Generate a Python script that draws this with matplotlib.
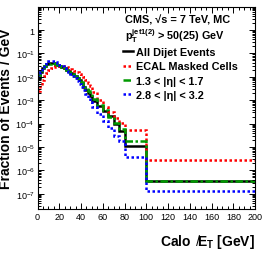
import numpy as np
import matplotlib
matplotlib.use("Agg")
import matplotlib.pyplot as plt
from matplotlib.ticker import FixedLocator, MultipleLocator, LogLocator, FuncFormatter, NullFormatter

# bin edges in GeV
edges = list(range(0, 50, 2)) + [50, 55, 60, 65, 70, 75, 80, 100, 200]

all_dijet = [1.1e-2, 1.6e-2, 2.3e-2, 2.9e-2, 3.4e-2, 3.8e-2, 3.9e-2, 3.8e-2, 3.6e-2, 3.3e-2,
             2.95e-2, 2.6e-2, 2.3e-2, 2.0e-2, 1.72e-2, 1.48e-2, 1.26e-2, 1.06e-2, 8.8e-3, 7.0e-3,
             5.2e-3, 3.8e-3, 2.8e-3, 2.0e-3, 1.45e-3,
             9e-4, 5.5e-4, 3.4e-4, 2.2e-4, 9.3e-5, 4.8e-5, 1.1e-5, 3.6e-7]
ecal_masked = [2.5e-3, 4.5e-3, 7.5e-3, 1.1e-2, 1.5e-2, 1.9e-2, 2.3e-2, 2.6e-2, 2.8e-2, 2.9e-2,
               2.9e-2, 2.85e-2, 2.75e-2, 2.6e-2, 2.42e-2, 2.22e-2, 2.0e-2, 1.78e-2, 1.55e-2, 1.33e-2,
               1.13e-2, 9.5e-3, 7.5e-3, 5.7e-3, 4.2e-3,
               2.3e-3, 1.0e-3, 5.0e-4, 3.0e-4, 1.8e-4, 1.1e-4, 5.3e-5, 2.7e-6]
eta_13_17 = [9e-3, 1.5e-2, 2.2e-2, 2.9e-2, 3.4e-2, 3.7e-2, 3.8e-2, 3.75e-2, 3.6e-2, 3.35e-2,
             3.0e-2, 2.65e-2, 2.35e-2, 2.05e-2, 1.78e-2, 1.53e-2, 1.3e-2, 1.1e-2, 9.3e-3, 7.6e-3,
             6.0e-3, 4.5e-3, 3.4e-3, 2.5e-3, 1.8e-3,
             1.1e-3, 6.2e-4, 3.8e-4, 2.0e-4, 1.1e-4, 6e-5, 1.85e-5, 3.6e-7]
eta_28_32 = [1.0e-2, 1.6e-2, 2.5e-2, 3.4e-2, 4.1e-2, 4.6e-2, 4.8e-2, 4.6e-2, 4.3e-2, 3.8e-2,
             3.3e-2, 2.85e-2, 2.4e-2, 2.0e-2, 1.65e-2, 1.35e-2, 1.1e-2, 8.8e-3, 6.8e-3, 5.0e-3,
             3.7e-3, 2.6e-3, 1.8e-3, 1.25e-3, 8.5e-4,
             5.0e-4, 2.6e-4, 1.3e-4, 6.5e-5, 2.9e-5, 1.8e-5, 3.8e-6, 1.35e-7]

labels = ["All Dijet Events", "ECAL Masked Cells", "1.3 < |η| < 1.7", "2.8 < |η| < 3.2"]
yticks = [1e-7, 1e-6, 1e-5, 1e-4, 1e-3, 1e-2, 1e-1, 1]

plt.rcParams['font.family'] = ['Liberation Sans', 'DejaVu Sans']
plt.rcParams['mathtext.fontset'] = 'custom'
plt.rcParams['mathtext.rm'] = 'Liberation Sans'
plt.rcParams['mathtext.bf'] = 'Liberation Sans:bold'
plt.rcParams['mathtext.it'] = 'Liberation Sans:italic'

fig = plt.figure(figsize=(2.66, 2.55), dpi=100)
ax = fig.add_axes([0.141, 0.176, 0.818, 0.794])

ax.stairs(all_dijet, edges, baseline=None, color='black', lw=1.8, label=labels[0])
ax.stairs(ecal_masked, edges, baseline=None, color='#ff0000', lw=1.8, ls=(0, (1, 1)), label=labels[1])
ax.stairs(eta_13_17, edges, baseline=None, color='#009900', lw=1.8, ls=(0, (3, 1, 1, 1)), label=labels[2])
ax.stairs(eta_28_32, edges, baseline=None, color='#0000ff', lw=1.8, ls=(0, (1, 1)), label=labels[3])

ax.set_yscale('log')
ax.set_xlim(0, 200)
ax.set_ylim(2.2e-8, 10)

ax.xaxis.set_major_locator(MultipleLocator(20))
ax.xaxis.set_minor_locator(MultipleLocator(5))
ax.yaxis.set_major_locator(FixedLocator(yticks))
ax.yaxis.set_minor_locator(LogLocator(base=10, subs=np.arange(2, 10), numticks=20))
ax.yaxis.set_minor_formatter(NullFormatter())

def fmt(v, pos):
    e = int(round(np.log10(v)))
    if e == 0:
        return '1'
    return r'$\mathregular{10^{%d}}$' % e

ax.yaxis.set_major_formatter(FuncFormatter(fmt))

ax.tick_params(which='both', direction='in', top=True, right=True, labelsize=6.5, pad=2)
ax.tick_params(which='major', length=4.5, width=0.7)
ax.tick_params(which='minor', length=2.3, width=0.7)
for s in ax.spines.values():
    s.set_linewidth(0.8)

ax.set_ylabel('Fraction of Events / GeV', fontsize=10, fontweight='bold', labelpad=2)
ax.set_xlabel(r'Calo $\;\not\mathbf{E}_\mathbf{T}$ [GeV]', fontsize=10, fontweight='bold',
              loc='right', labelpad=8)

ax.text(0.402, 0.935, 'CMS, √s = 7 TeV, MC', transform=ax.transAxes,
        fontsize=7.8, fontweight='bold', va='center', ha='left')
ax.text(0.402, 0.862, r'$\mathbf{p}_\mathbf{T}^\mathbf{jet1(2)}$ > 50(25) GeV', transform=ax.transAxes,
        fontsize=7.8, fontweight='bold', va='center', ha='left')

leg = ax.legend(loc='upper left', bbox_to_anchor=(0.395, 0.8), frameon=False,
                borderpad=0, borderaxespad=0, handlelength=0.9, handletextpad=0.3,
                labelspacing=0.4, prop={'size': 7.8, 'weight': 'bold'})

fig.savefig('out.png', dpi=100)
